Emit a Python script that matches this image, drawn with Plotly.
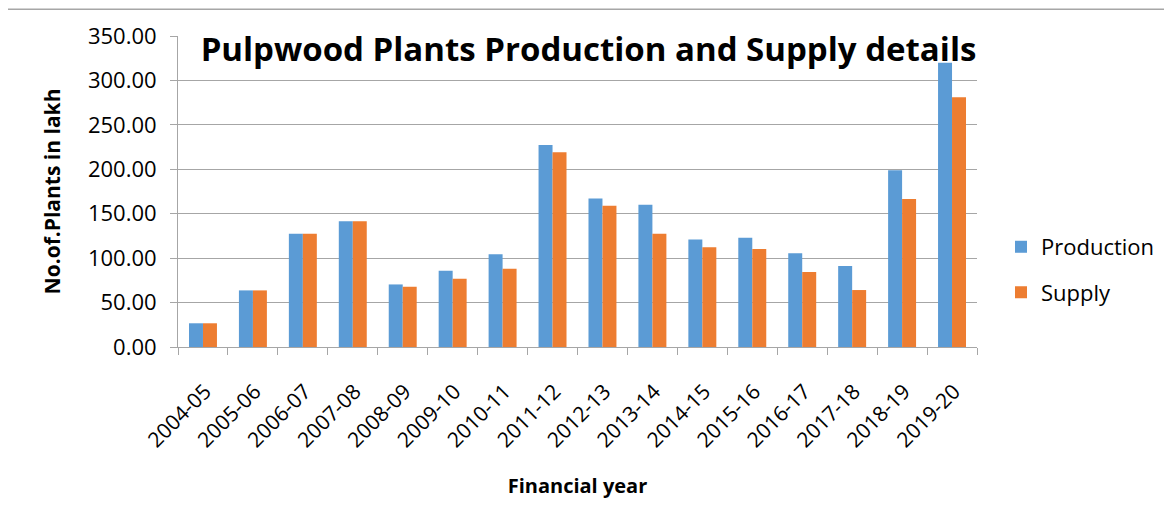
import plotly.graph_objects as go

years = ["2004-05", "2005-06", "2006-07", "2007-08", "2008-09", "2009-10",
         "2010-11", "2011-12", "2012-13", "2013-14", "2014-15", "2015-16",
         "2016-17", "2017-18", "2018-19", "2019-20"]
production = [26.7, 63.7, 127.4, 141.5, 70.4, 85.9, 104.4, 227.4,
              167.0, 160.0, 121.1, 123.0, 105.6, 91.1, 198.9, 320.0]
supply = [26.7, 63.7, 127.4, 141.5, 67.8, 76.7, 88.1, 219.3,
          158.9, 127.4, 112.2, 110.4, 84.4, 64.1, 166.7, 281.1]
y_ticks = [0, 50, 100, 150, 200, 250, 300, 350]

FONT = "Open Sans"
GRID = "#A6A6A6"

fig = go.Figure()
fig.add_trace(go.Bar(x=years, y=production, name="Production",
                     marker=dict(color="#5B9BD5", line=dict(width=0)),
                     showlegend=True, legend="legend"))
fig.add_trace(go.Bar(x=years, y=supply, name="Supply",
                     marker=dict(color="#ED7D31", line=dict(width=0)),
                     showlegend=True, legend="legend2"))

W, H = 1172, 531
OFF = 8  # page body margin
L, T = 178 - OFF, 33 - OFF
pw, ph = 799, 314
R, B = W - L - pw, H - T - ph

def px_x(x):
    return (x - OFF - L) / pw

def px_y(y):
    return (T + ph + OFF - y) / ph

fig.update_layout(
    width=W, height=H,
    margin=dict(l=L, r=R, t=T, b=B),
    paper_bgcolor="white", plot_bgcolor="white",
    showlegend=True,
    font=dict(family=FONT, color="black", size=22),
    barmode="group", bargap=0.44, bargroupgap=0,
    title=dict(text="<b>Pulpwood Plants Production and Supply details</b>",
               x=(588.5 - OFF) / W, xanchor="center",
               y=1 - (49 - OFF) / H, yanchor="middle",
               font=dict(family=FONT, size=33, color="black")),
    xaxis=dict(
        type="category", tickangle=-45, tickson="boundaries",
        ticks="outside", ticklen=7, tickcolor=GRID, tickwidth=1,
        showline=True, linecolor=GRID, linewidth=1,
        showgrid=False, tickfont=dict(size=21),
        ticklabelstandoff=23, ticklabelshift=2,
        title=dict(text="<b>Financial year</b>", font=dict(size=20), standoff=26),
    ),
    yaxis=dict(
        range=[0, 350], tickvals=y_ticks,
        ticktext=[f"{v:.2f}" for v in y_ticks],
        ticks="outside", ticklen=7, tickcolor=GRID, tickwidth=1,
        showline=True, linecolor=GRID, linewidth=1,
        showgrid=True, gridcolor=GRID, gridwidth=1,
        zeroline=False, tickfont=dict(size=22),
        ticklabelstandoff=9,
        title=dict(text="<b>No.of.Plants in lakh</b>", font=dict(size=21), standoff=21),
    ),
    legend=dict(x=px_x(1001), xanchor="left", y=px_y(246), yanchor="middle",
                font=dict(size=22), bgcolor="rgba(0,0,0,0)"),
    legend2=dict(x=px_x(1001), xanchor="left", y=px_y(292), yanchor="middle",
                 font=dict(size=22), bgcolor="rgba(0,0,0,0)"),
    shapes=[dict(type="rect", xref="paper", yref="paper",
                 x0=px_x(5), x1=px_x(1190), y0=px_y(545), y1=px_y(6),
                 line=dict(color="#A6A6A6", width=1.5), layer="below")],
)

fig.write_html("out.html")
